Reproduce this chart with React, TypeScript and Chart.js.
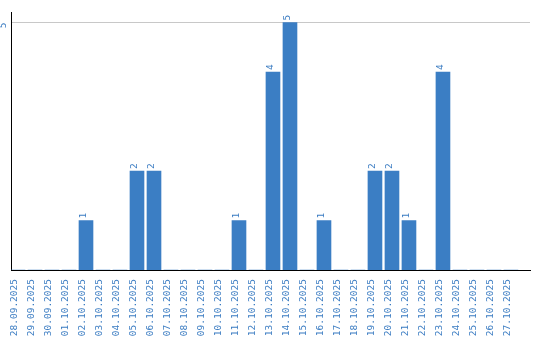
import React, { useEffect, useRef } from 'react';
import { Chart, registerables } from 'chart.js';

Chart.register(...registerables);

const categories = [
  '28.09.2025', '29.09.2025', '30.09.2025', '01.10.2025', '02.10.2025',
  '03.10.2025', '04.10.2025', '05.10.2025', '06.10.2025', '07.10.2025',
  '08.10.2025', '09.10.2025', '10.10.2025', '11.10.2025', '12.10.2025',
  '13.10.2025', '14.10.2025', '15.10.2025', '16.10.2025', '17.10.2025',
  '18.10.2025', '19.10.2025', '20.10.2025', '21.10.2025', '22.10.2025',
  '23.10.2025', '24.10.2025', '25.10.2025', '26.10.2025', '27.10.2025',
];
const values = [
  0, 0, 0, 0, 1,
  0, 0, 2, 2, 0,
  0, 0, 0, 1, 0,
  4, 5, 0, 1, 0,
  0, 2, 2, 1, 0,
  4, 0, 0, 0, 0,
];
const yTicks = [5];

const BAR_COLOR = '#3b7ec4';
const TEXT_COLOR = '#3b7cc2';
const FONT_FAMILY = '"DejaVu Sans Mono", monospace';
const FONT_SIZE = 9.5;

const valueLabels = {
  id: 'valueLabels',
  afterDatasetsDraw(chart: any) {
    const ctx = chart.ctx;
    const meta = chart.getDatasetMeta(0);
    ctx.save();
    ctx.fillStyle = TEXT_COLOR;
    ctx.font = `${FONT_SIZE}px ${FONT_FAMILY}`;
    ctx.textAlign = 'left';
    ctx.textBaseline = 'middle';
    meta.data.forEach((bar: any, i: number) => {
      const v = values[i];
      if (!v) return;
      ctx.save();
      ctx.translate(bar.x - 2.5, bar.y - 2);
      ctx.rotate(-Math.PI / 2);
      ctx.fillText(String(v), 0, 0);
      ctx.restore();
    });
    ctx.restore();
  },
};

export default function App() {
  const ref = useRef<HTMLCanvasElement | null>(null);

  useEffect(() => {
    document.body.style.margin = '0';
    const canvas = ref.current;
    if (!canvas) return;
    const chart = new Chart(canvas, {
      type: 'bar',
      data: {
        datasets: [
          {
            data: values.map((v, i) => ({ x: i, y: v })),
            backgroundColor: BAR_COLOR,
            borderWidth: 0,
            barThickness: 14,
          },
        ],
      },
      options: {
        animation: false,
        responsive: false,
        maintainAspectRatio: false,
        layout: { padding: { top: 10, right: 10, left: 0, bottom: 0 } },
        plugins: {
          legend: { display: false },
          tooltip: { enabled: false },
          title: { display: false },
        },
        scales: {
          x: {
            type: 'linear',
            offset: false,
            min: -0.412,
            max: 30.12,
            grid: { display: false, drawTicks: false, offset: false },
            border: { display: true, color: '#000000', width: 1 },
            afterBuildTicks: (scale: any) => {
              scale.ticks = categories.map((_, i) => ({ value: i }));
            },
            afterFit: (scale: any) => {
              scale.height = 70;
            },
            ticks: {
              autoSkip: false,
              minRotation: 90,
              maxRotation: 90,
              padding: 9,
              labelOffset: -3,
              color: TEXT_COLOR,
              font: { family: FONT_FAMILY, size: FONT_SIZE },
              callback: (v: any) => categories[v] ?? '',
            },
          },
          y: {
            type: 'linear',
            min: 0,
            max: 5.2,
            grid: { color: '#c8c8c8', drawTicks: false, lineWidth: 1 },
            border: { display: true, color: '#000000', width: 1 },
            afterBuildTicks: (scale: any) => {
              scale.ticks = yTicks.map((v) => ({ value: v }));
            },
            afterFit: (scale: any) => {
              scale.width = 11;
            },
            ticks: {
              minRotation: 90,
              maxRotation: 90,
              padding: 7,
              color: TEXT_COLOR,
              font: { family: FONT_FAMILY, size: FONT_SIZE },
              callback: (v: any) => String(v),
            },
          },
        },
      },
      plugins: [valueLabels],
    } as any);
    return () => chart.destroy();
  }, []);

  return (
    <div style={{ width: 540, height: 340 }}>
      <canvas ref={ref} width={540} height={340} style={{ display: 'block' }} />
    </div>
  );
}
